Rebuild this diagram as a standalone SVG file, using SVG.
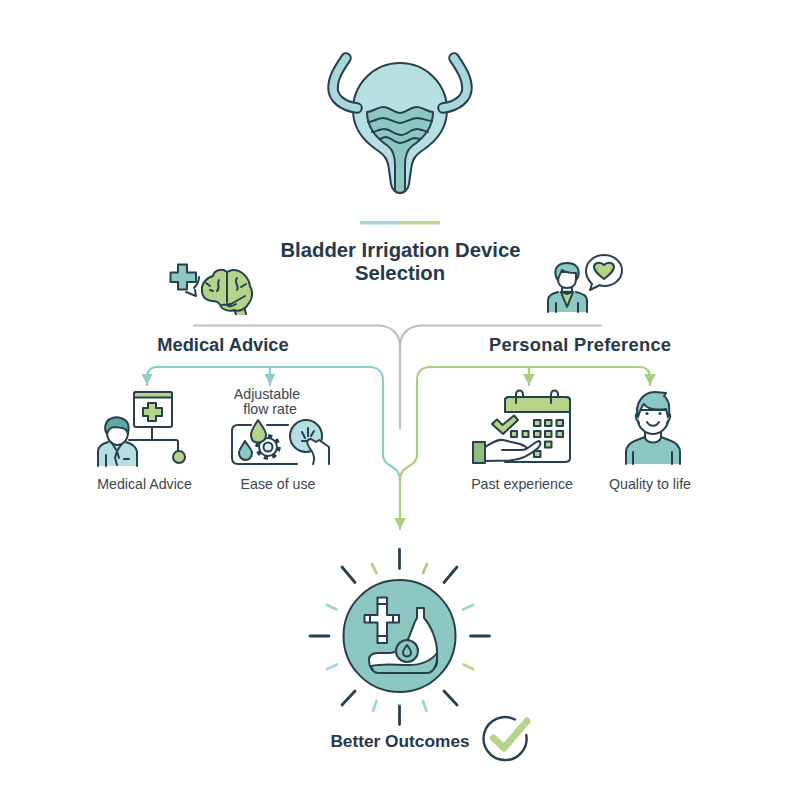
<svg xmlns="http://www.w3.org/2000/svg" width="800" height="800" viewBox="0 0 800 800">
<style>
text{font-family:"Liberation Sans",Arial,sans-serif;fill:#26394a;text-anchor:middle}
.h{font-weight:700;font-size:20.300px}
.s{font-weight:700;font-size:18.300px}
.l{font-size:14.200px;fill:#3a4750}
.d{stroke:#26404f;stroke-width:2;fill:none;stroke-linecap:round;stroke-linejoin:round}
.df{stroke:#26404f;stroke-width:2;stroke-linecap:round;stroke-linejoin:round}
.t{fill:#8cc7c1}.lt{fill:#b7dfe1}.g{fill:#b5d48a}.w{fill:#fff}
.c{fill:none;stroke-width:2.200;stroke-linecap:round}
.ray{stroke:#26404f;stroke-width:2.800;stroke-linecap:round}
.ray2{stroke-width:2.800;stroke-linecap:round}
</style>
<defs>
<marker id="at" markerUnits="userSpaceOnUse" markerWidth="12" markerHeight="12" refX="11" refY="6" orient="auto"><path d="M0 0.500L11 6L0 11.500Z" fill="#8fcbca"/></marker>
<marker id="ag" markerUnits="userSpaceOnUse" markerWidth="12" markerHeight="12" refX="11" refY="6" orient="auto"><path d="M0 0L11 6L0 12Z" fill="#a9cf82"/></marker>
</defs>
<rect width="800" height="800" fill="#fff"/>

<g id="bladder">
<path class="df lt" d="M400 63C374 63 353 84 353 110C353 127 362 140 377 150C385 155 388 160 389 170L391 184C392 190 396 193 400 193C404 193 408 190 409 184L411 170C412 160 415 155 423 150C438 140 447 127 447 110C447 84 426 63 400 63Z"/>
<path class="df t" d="M367 112C373 112 377 107 383 107C390 107 394 113 400 113C406 113 410 107 417 107C423 107 427 112 433 112C433 128 424 138 412 146C407 150 405 155 405 165V191Q400 195 395 191V165C395 155 393 150 388 146C376 138 367 128 367 112Z"/>
<path class="d" d="M368 122C374 122 377 118 383 118C390 118 394 123 400 123C406 123 410 118 417 118C423 118 427 121 432 121M372 132C376 132 379 129 384 129C391 129 394 135 401 135C407 135 411 129 417 129C421 129 424 131 428 132M380 139C382 138 384 137 386 137C391 137 394 143 400 143C406 143 410 138 415 138L420 139"/>
<path d="M346 58C338 70 333 78 333 88C333 98 342 106 357 108" fill="none" stroke="#26404f" stroke-width="11.500" stroke-linecap="round"/>
<path d="M346 58C338 70 333 78 333 88C333 98 342 106 357 108" fill="none" stroke="#a9d6da" stroke-width="7.500" stroke-linecap="round"/>
<path d="M454 58C462 70 467 78 467 88C467 98 458 106 443 108" fill="none" stroke="#26404f" stroke-width="11.500" stroke-linecap="round"/>
<path d="M454 58C462 70 467 78 467 88C467 98 458 106 443 108" fill="none" stroke="#a9d6da" stroke-width="7.500" stroke-linecap="round"/>
</g>
<rect x="360" y="221" width="40" height="3.500" fill="#a9d3d8"/>
<rect x="400" y="221" width="40" height="3.500" fill="#bcd693"/>

<g id="title">
<text class="h" x="400.500" y="257">Bladder Irrigation Device</text>
<text class="h" x="400" y="280">Selection</text>
</g>

<g id="connectors">
<path class="c" stroke="#b9bec3" d="M194 325.500H378C390 325.500 400 333 400 346V428"/>
<path class="c" stroke="#b9bec3" d="M601 325.500H422C410 325.500 400 333 400 346"/>
<path class="c" stroke="#8fcbca" d="M383 380V455C383 468 400 464 400 480"/>
<path class="c" stroke="#8fcbca" marker-end="url(#at)" d="M383 380C383 372 378 367 370 367H157C151 367 147 371 147 377V385"/>
<path class="c" stroke="#8fcbca" marker-end="url(#at)" d="M270 367V385"/>
<path class="c" stroke="#a9cf82" marker-end="url(#ag)" d="M417 380V455C417 468 400 464 400 480V529"/>
<path class="c" stroke="#a9cf82" marker-end="url(#ag)" d="M417 380C417 372 422 367 430 367H640C646 367 650 371 650 377V385"/>
<path class="c" stroke="#a9cf82" marker-end="url(#ag)" d="M529 367V385"/>
</g>

<g id="medical-advice">
<text class="s" x="223" y="351">Medical Advice</text>
<path class="df t" d="M178 264.500H187V272.500H196V282H187V289.500H178V282H170.500V272.500H178Z"/>
<path class="d" d="M199 277C199 281 197 285 194 288M186 292L196 296L195 290"/>
<path class="g" d="M233 307H245L247 315H235Z"/>
<path class="d" d="M236 314L233 307M246 314L244 306"/>
<path class="df g" d="M227 272C222 268 214 270 213 276C206 278 201 284 202 291C202 297 207 301 212 301C217 301 219 302 220 305C222 310 230 312 234 310C240 312 246 309 249 303C253 298 253 291 250 286C249 279 243 270 233 270C231 270 229 271 227 272Z"/>
<path class="d" d="M227 272V302M206 283L210 286M219 280C216 284 221 287 217 291M213 291L210 290M237 278C233 282 240 286 237 290M246 284L241 287M222 305L231 304L245 296M227 304C228 308 233 306 236 304"/>
</g>

<g id="personal-preference">
<text class="s" x="580" y="351" textLength="182">Personal Preference</text>
<path class="t" d="M548 312V301C548 295 552 294 557 292L567 290L578 292C583 294 587 295 587 301V312Z"/>
<path class="d" d="M548 312V301C548 295 552 294 558 292M576 292C583 294 587 295 587 301V312"/>
<path class="df g" d="M561 292L567 307L573 292Z"/>
<path class="df w" d="M558 272V279C558 285 562 288 567 288C572 288 576 285 576 279V272Z"/>
<path class="df t" d="M558 280C554 276 555 268 558 266C562 262 572 262 576 266C579 268 580 276 576 280V273C572 273 566 273 562 270C561 273 559 275 558 280Z"/>
<path class="d" d="M562 287V292L567 294L572 292V287M556 303V312M578 303V312"/>
<path class="df w" d="M604 255C594 255 586 262 586 271C586 277 589 281 592 284L590 290L600 285C601 286 603 286 604 286C614 286 622 279 622 270.500C622 262 614 255 604 255Z"/>
<path class="df g" d="M604 279C598 274 594 271 594 267C594 263 600 261 604 265C608 261 614 263 614 267C614 271 610 274 604 279Z"/>
</g>

<g id="medical-advice-item">
<rect class="df w" x="134" y="392" width="38" height="35" rx="2"/>
<path class="df g" d="M134 397.500V394Q134 392 136 392H170Q172 392 172 394V397.500Z"/>
<path class="df g" d="M148 403H156V408H162V416H156V421H148V416H143V408H148Z"/>
<path class="d" d="M152 427V439M129 440H176Q178 440 178 442V452"/>
<circle class="df g" cx="179" cy="457" r="6"/>
<path class="lt" d="M98 466V452C98 446 102 444 107 442L117 440L127 442C132 444 136 446 137 452V466Z"/>
<path class="d" d="M98 466V452C98 446 102 444 108 442M126 442C132 444 136 446 137 452V466"/>
<path class="df w" d="M107 426V432C107 440 112 445 117 445C123 445 128 440 128 432V426Z"/>
<path class="df" fill="#5fa9a4" d="M107 434C103 428 106 421 110 419C115 416 123 417 127 422C129 425 129 429 128 434C127 428 123 428 115 427C110 427 108 430 107 434Z"/>
<path class="d" d="M113 445L117 451L121 445M117 451L115 458L117 465M117 451L119 458M106 455V466M124 459H129"/>
</g>

<g id="ease-of-use">
<text class="l" x="267" y="399">Adjustable</text>
<text class="l" x="270" y="414">flow rate</text>
<path class="d" d="M251 425H238Q232 425 232 431V458Q232 464 238 464H297M267 425H288"/>
<circle cx="268" cy="447" r="10.500" fill="none" stroke="#26404f" stroke-width="4.500" stroke-dasharray="4 4.200"/>
<circle cx="268" cy="447" r="9" fill="#fff" stroke="#26404f" stroke-width="2"/>
<circle cx="268" cy="447" r="4.500" fill="#d6ebec" stroke="#26404f" stroke-width="2"/>
<path class="df g" d="M258 420C255 425 251 430 251 435C251 440 254 442.500 258 442.500C262 442.500 266 440 266 435C266 430 261 425 258 420Z"/>
<path class="df t" d="M245 441C243 445 239 449 239 453C239 457 242 460 245.500 460C249 460 252 457 252 453C252 449 247 445 245 441Z"/>
<circle class="df lt" cx="306" cy="436" r="16"/>
<path class="d" d="M302 432L305 438M308 428V436M314 431L311 436M302 441H310"/>
<path class="df w" d="M313 464C316 458 313 452 309 447C306 443 307 439 311 439L316 442L319 440L329 447V464" />
</g>
<text class="l" x="144.500" y="489">Medical Advice</text>
<text class="l" x="278" y="489">Ease of use</text>

<g id="past-experience">
<path class="df w" d="M505 412V400Q505 397 510 397H565Q570 397 570 400V458Q570 462 565 462H505"/>
<path class="df g" d="M505 412V400Q505 397 510 397H565Q570 397 570 400V412Z"/>
<path class="d" d="M516 403V395C516 389 523 389 523 395V397M551 403V395C551 389 558 389 558 395V397"/>
<g class="df g">
<rect x="534" y="420" width="6.500" height="6"/><rect x="545" y="420" width="6.500" height="6"/><rect x="556.500" y="420" width="6.500" height="6"/>
<rect x="511" y="431" width="6" height="6"/><rect x="522.500" y="431" width="6" height="6"/><rect x="534" y="431" width="6.500" height="6"/><rect x="545" y="431" width="6.500" height="6"/><rect x="556.500" y="431" width="6.500" height="6"/>
<rect x="545" y="441.500" width="6.500" height="6"/><rect x="534" y="451" width="6.500" height="6"/>
</g>
<path class="df g" d="M492 424L497 419.500L502.500 425L514 415.500L518 420L503 434Z"/>
<path class="df w" d="M485 447C492 443 497 439 503 440L520 444C525 446 527 447 526 449C532 446 536 441 539 441C541 442 541 445 538 448C530 455 520 460 510 460.500L485 461Z"/>
<path class="d" d="M502 450H518C522 450 525 450 526 449"/>
<rect class="df" fill="#91bd7f" x="473" y="442" width="12" height="21"/>
</g>
<text class="l" x="522" y="489">Past experience</text>

<g id="quality-of-life">
<path class="t" d="M626 464V452C626 446 631 442 637 440L645 437H661L669 440C675 442 680 446 680 452V464Z"/>
<path class="d" d="M626 464V452C626 446 631 442 637 440L645 437M661 437L669 440C675 442 680 446 680 452V464"/>
<path class="df w" d="M645 430V438C648 444 658 444 661 438V430Z"/>
<path class="df w" d="M638 410V420C638 428 646 434 653 434C660 434 668 428 668 420V410Z"/>
<path class="df w" d="M638 412Q633 416 639 423M668 412Q673 416 667 423"/>
<path class="df t" d="M638 417C634 404 643 392 655 392L666 393L664 396C669 400 671 409 668 417L666 409C659 410 648 410 644 404C641 407 640 411 638 417Z"/>
<circle cx="647" cy="413.500" r="1.600" fill="#26404f"/><circle cx="660" cy="413.500" r="1.600" fill="#26404f"/>
<path class="d" d="M647 422C650 427 656 427 659 422M633 452V464M672 452V464"/>
</g>
<text class="l" x="650" y="489">Quality to life</text>

<g id="better-outcomes">
<circle cx="399.500" cy="636" r="56" fill="#8cc7c1" stroke="#26404f" stroke-width="2"/>
<path class="df w" d="M377.500 597.500H387V615H399V622.500H387V643H377.500V622.500H364.500V615H377.500Z"/>
<path class="d" d="M377.500 604H387M370 615V622.500M393 615V622.500M377.500 636H387"/>
<path class="df w" d="M417 618V608H424V618C431 626 437 640 437 652L437 662C437 667 432 672 426 672H378C372 672 369 667 369 660C369 655 372 653 378 653H390C397 653 400 646 408 639C411 634 413 624 417 618Z"/>
<path class="df t" d="M371 666C372 670 374 673 378 673H427C433 673 438 665 437 653C431 661 420 665 408 665C396 665 384 663 371 666Z"/>
<circle class="df t" cx="407" cy="651" r="11"/>
<path class="d" d="M407 645C404 649 403 651 403 652.500C403 655 405 656.500 407 656.500C409 656.500 411 655 411 652.500C411 651 410 649 407 645Z"/>
<path class="ray" d="M399.500 549.500V568.500M399.500 706V724.500M310 636H329M470.500 636H489.500M342 567L355 582.500M457 567L444 582.500M342 705L355 691M457 705L444 691"/>
<path class="ray2" stroke="#b5d48a" d="M372 564L376.500 573"/>
<path class="ray2" stroke="#a9cf82" d="M427 564L423 573"/>
<path class="ray2" stroke="#a2d6c3" d="M327 605L336.500 609.500"/>
<path class="ray2" stroke="#a2d6c3" d="M463 609.500L473 605"/>
<path class="ray2" stroke="#a3dadd" d="M327 669L337 664.500"/>
<path class="ray2" stroke="#b5d48a" d="M463.500 664.500L473 669"/>
<path class="ray2" stroke="#a9d8bd" d="M373 711L376.500 701"/>
<path class="ray2" stroke="#a2d6c9" d="M423 701L426.500 711"/>
<text class="s" x="400" y="747" style="font-size:17.300px">Better Outcomes</text>
<path d="M515 719.500A21.500 21.500 0 1 0 526.300 735" fill="none" stroke="#26404f" stroke-width="2.400" stroke-linecap="round"/>
<path d="M493.500 738L504 748L527 721" fill="none" stroke="#b5d48a" stroke-width="7" stroke-linecap="round" stroke-linejoin="round"/>
</g>
</svg>
